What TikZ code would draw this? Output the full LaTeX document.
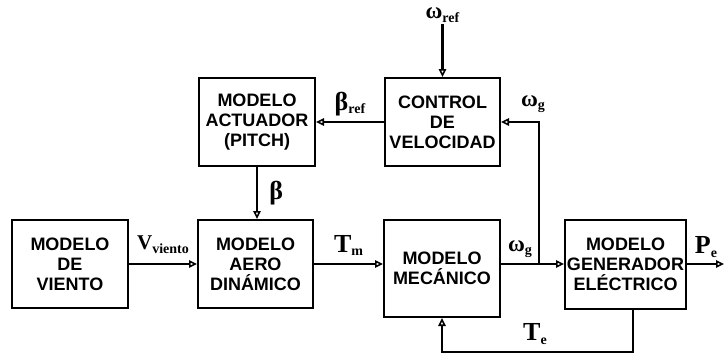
\documentclass[tikz,border=0pt]{standalone}
\usepackage{fontspec}
\setmainfont{Liberation Serif}
\setsansfont{Liberation Sans}
\usetikzlibrary{arrows.meta}
\newcommand{\sig}[3][26]{{\fontsize{#1}{#1}\selectfont\bfseries #2}\raisebox{-3.5pt}{\fontsize{14}{14}\selectfont\bfseries #3}}

\begin{document}
\begin{tikzpicture}[x=1pt, y=1pt, line width=2.2pt,
    >={Triangle[open, length=8pt, width=7.5pt, line width=1.6pt]},
    bloque/.style={draw, line width=2pt, minimum width=116pt, minimum height=88pt, inner sep=0pt,
      align=center, font=\sffamily\bfseries\fontsize{18}{20}\selectfont},
    senal/.style={inner sep=1pt}]
    \useasboundingbox (0,0) rectangle (724,360);

    % bloques
    \node[bloque] (viento) at (70,96) {MODELO\\DE\\VIENTO};
    \node[bloque, minimum width=115pt] (aero) at (255.5,96) {MODELO\\AERO\\DINÁMICO};
    \node[bloque, minimum height=97pt] (mec) at (442,91.5) {MODELO\\MECÁNICO};
    \node[bloque, minimum width=121pt, minimum height=89pt] (gen) at (625.5,95.5) {MODELO\\GENERADOR\\ELÉCTRICO};
    \node[bloque] (act) at (257,238) {MODELO\\ACTUADOR\\(PITCH)};
    \node[bloque, minimum width=115pt] (ctrl) at (442.5,238) {CONTROL\\DE\\VELOCIDAD};

    % puntos auxiliares
    \coordinate (nudo) at (539,96);
    \coordinate (salida) at (724,96);
    \coordinate (abajo) at (633,8);

    % referencia de velocidad
    \node[senal] (wref) at (442.5,345) {\sig[23]{ω}{ref}};
    \draw[->] (wref) -- (ctrl);

    % lazo de control
    \draw[->] (ctrl) -- (act) node[midway, above=2pt] {\sig{β}{ref}};
    \draw[->] (act.south) -- (act.south |- aero.north) node[midway, right=8pt] {\sig{β}{}};
    \draw[->] (nudo) |- (ctrl.east);
    \node[senal] at (533,256) {\sig[23]{ω}{g}};

    % cadena principal
    \draw[->] (viento) -- (aero) node[midway, above=6pt] {\sig[21]{V}{viento}};
    \draw[->] (aero.east) -- (aero.east -| mec.west) node[midway, above=4pt] {\sig{T}{m}};
    \draw (mec.east |- nudo) -- (nudo);
    \draw[->] (nudo) -- (nudo -| gen.west);
    \node[senal] at (520,111) {\sig[23]{ω}{g}};
    \draw[->] (gen.east |- salida) -- (salida);
    \node[senal] at (706,113) {\sig{P}{e}};

    % par electrico
    \draw[->] (gen.south -| abajo) -- (abajo) -| (mec.south);
    \node[senal] at (535,26) {\sig{T}{e}};
\end{tikzpicture}
\end{document}
